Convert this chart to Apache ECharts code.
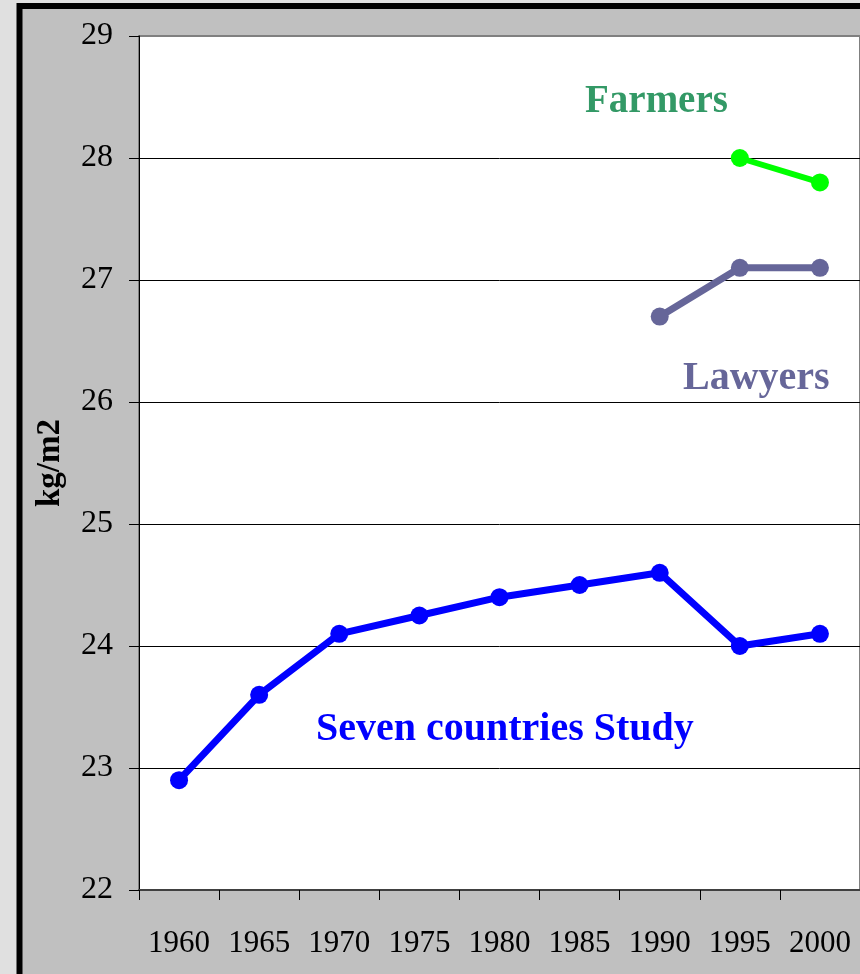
<!DOCTYPE html>
<html>
<head>
<meta charset="utf-8">
<style>
  html, body { margin: 0; padding: 0; background: #e0e0e0; }
  #chart { width: 860px; height: 974px; }
</style>
<script src="https://cdn.jsdelivr.net/npm/echarts@6/dist/echarts.min.js"></script>
</head>
<body>
<div id="chart"></div>
<script>
// Survey years on the horizontal axis
const years = ['1960', '1965', '1970', '1975', '1980', '1985', '1990', '1995', '2000'];

// Mean body-mass index (kg/m2) per group
const sevenCountries = [22.9, 23.6, 24.1, 24.25, 24.4, 24.5, 24.6, 24.0, 24.1];
const lawyers = [null, null, null, null, null, null, 26.7, 27.1, 27.1];
const farmers = [null, null, null, null, null, null, null, 28.0, 27.8];

// Value-axis range
const yMin = 22;
const yMax = 29;
const yStep = 1;

const serif = '"Liberation Serif", "Times New Roman", serif';

const chart = echarts.init(document.getElementById('chart'), null, { renderer: 'canvas' });

function lineSeries(name, data, color, width) {
  return {
    name: name,
    type: 'line',
    data: data,
    symbol: 'circle',
    symbolSize: 18,
    showSymbol: true,
    connectNulls: false,
    animation: false,
    lineStyle: { color: color, width: width },
    itemStyle: { color: color },
    z: 3
  };
}

chart.setOption({
  backgroundColor: '#e0e0e0',
  animation: false,
  graphic: [
    {
      type: 'rect',
      z: -10,
      silent: true,
      shape: { x: 19.5, y: 6, width: 900, height: 1000 },
      style: { fill: '#c0c0c0', stroke: '#000000', lineWidth: 6 }
    },
    {
      type: 'text',
      z: 10,
      left: 585, top: 82,
      style: { text: 'Farmers', fill: '#339966', font: 'bold 39px ' + serif }
    },
    {
      type: 'text',
      z: 10,
      left: 683, top: 359,
      style: { text: 'Lawyers', fill: '#666699', font: 'bold 40px ' + serif }
    },
    {
      type: 'text',
      z: 10,
      left: 316, top: 710,
      style: { text: 'Seven countries Study', fill: '#0000ff', font: 'bold 40px ' + serif }
    }
  ],
  grid: {
    left: 139,
    top: 36,
    width: 724,
    height: 854,
    show: true,
    backgroundColor: '#ffffff',
    borderColor: '#808080',
    borderWidth: 2
  },
  xAxis: {
    type: 'category',
    data: years,
    boundaryGap: true,
    axisLine: { show: true, lineStyle: { color: '#404040', width: 2 } },
    axisTick: { show: true, inside: false, length: 10, interval: 0, alignWithLabel: false,
                lineStyle: { color: '#000000', width: 1 } },
    axisLabel: { interval: 0, margin: 38, color: '#000000', fontFamily: serif, fontSize: 31 },
    splitLine: { show: false }
  },
  yAxis: {
    type: 'value',
    min: yMin,
    max: yMax,
    interval: yStep,
    name: 'kg/m2',
    nameLocation: 'middle',
    nameGap: 72,
    nameRotate: 90,
    nameTextStyle: { color: '#000000', fontFamily: serif, fontSize: 33, fontWeight: 'bold' },
    axisLine: { show: true, lineStyle: { color: '#000000', width: 1 } },
    axisTick: { show: true, inside: false, length: 10, lineStyle: { color: '#000000', width: 1 } },
    axisLabel: { margin: 26, color: '#000000', fontFamily: serif, fontSize: 32 },
    splitLine: { show: true, showMinLine: false, showMaxLine: false,
                 lineStyle: { color: '#000000', width: 1 } }
  },
  series: [
    lineSeries('Seven countries Study', sevenCountries, '#0000ff', 7),
    lineSeries('Lawyers', lawyers, '#666699', 7),
    lineSeries('Farmers', farmers, '#00ff00', 6)
  ]
});
</script>
</body>
</html>
